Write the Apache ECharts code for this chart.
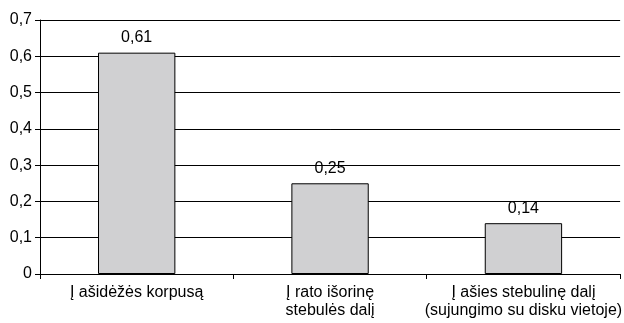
<!DOCTYPE html>
<html>
<head>
<meta charset="utf-8">
<script src="https://cdn.jsdelivr.net/npm/echarts@6/dist/echarts.min.js"></script>
<style>
  html, body { margin: 0; padding: 0; background: #fff; }
  #chart { width: 624px; height: 323px; }
</style>
</head>
<body>
<div id="chart"></div>
<script>
// Categories and values
const categories = [
  'Į ašidėžės korpusą',
  'Į rato išorinę\nstebulės dalį',
  'Į ašies stebulinę dalį\n(sujungimo su disku vietoje)'
];
const values = [0.61, 0.25, 0.14];
const yTicks = [0, 0.1, 0.2, 0.3, 0.4, 0.5, 0.6, 0.7];

const fmt = v => String(v).replace('.', ',');
const textFont = '"Liberation Sans", Arial, sans-serif';

const chart = echarts.init(document.getElementById('chart'), null, { renderer: 'canvas' });
chart.setOption({
  animation: false,
  grid: { left: 40, width: 587, top: 20, height: 254, containLabel: false },
  xAxis: {
    type: 'category',
    data: categories,
    axisLine: { show: true, lineStyle: { color: '#000', width: 1 } },
    axisTick: { show: true, alignWithLabel: false, length: 5, lineStyle: { color: '#000' } },
    axisLabel: {
      interval: 0,
      color: '#000', fontSize: 16, lineHeight: 18, margin: 10,
      fontFamily: textFont
    },
    splitLine: { show: false }
  },
  yAxis: {
    type: 'value',
    min: yTicks[0],
    max: yTicks[yTicks.length - 1],
    interval: 0.1,
    axisLine: { show: true, lineStyle: { color: '#000', width: 1 } },
    axisTick: { show: true, length: 5, lineStyle: { color: '#000' } },
    axisLabel: {
      color: '#000', fontSize: 16, margin: 8,
      fontFamily: textFont,
      formatter: v => fmt(Math.round(v * 10) / 10)
    },
    splitLine: { show: true, lineStyle: { color: '#000', width: 1 } }
  },
  series: [{
    type: 'bar',
    data: values,
    barWidth: '40%',
    itemStyle: { color: '#d0d0d2', borderColor: '#000', borderWidth: 1 },
    label: {
      show: true, position: 'top', distance: 7,
      color: '#000', fontSize: 16,
      fontFamily: textFont,
      formatter: p => fmt(p.value)
    }
  }]
});
</script>
</body>
</html>
